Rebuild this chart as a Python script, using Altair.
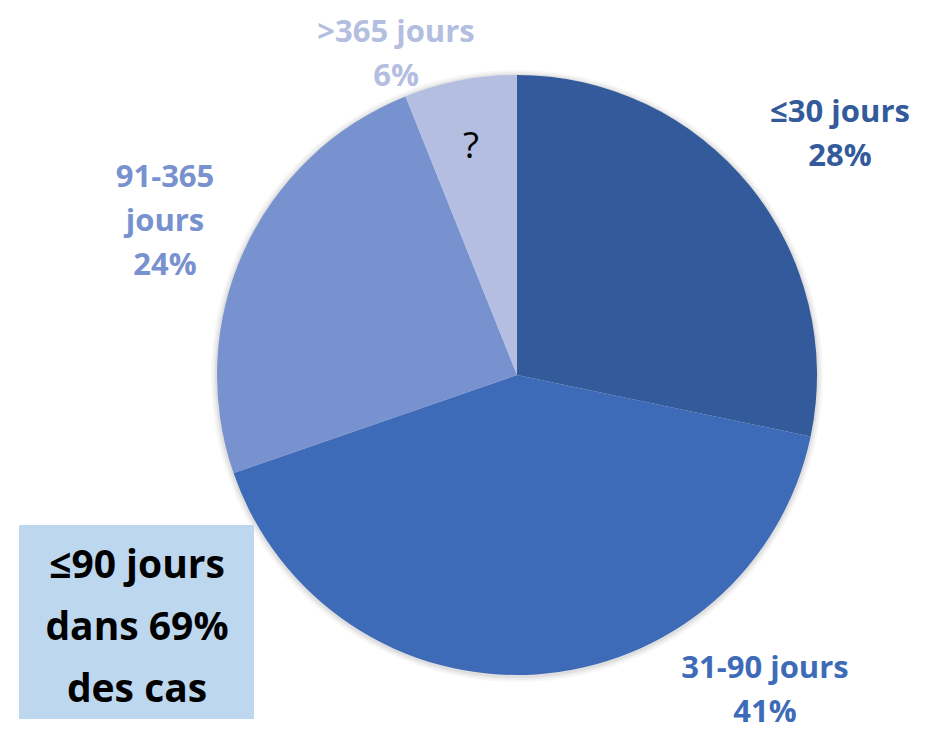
import altair as alt
import pandas as pd

# ---- data ----
categories = ["≤30 jours", "31-90 jours", "91-365 jours", ">365 jours"]
label_lines = [["≤30 jours", "28%"], ["31-90 jours", "41%"], ["91-365", "jours", "24%"], [">365 jours", "6%"]]
percent = [28, 41, 24, 6]
colors = ["#335A9B", "#3E6BB8", "#7891CF", "#B3BEE0"]
box_lines = ["≤90 jours", "dans 69%", "des cas"]
unknown_mark = "?"

# ---- layout (chart coords) ----
W, H = 920, 720
CX, CY, R = 509, 367, 300
label_pos = [(832, 114), (757, 670), (157, 179), (388, 34)]
FONT = "Open Sans"

df = pd.DataFrame({"cat": categories, "pct": percent, "order": list(range(len(categories)))})

theta = alt.Theta("pct:Q", stack=True)
order = alt.Order("order:Q")

shadows = []
for dr, op in [(6, 0.03), (4, 0.04), (2, 0.06)]:
    shadows.append(
        alt.Chart(df).mark_arc(outerRadius=R + dr, color="#000000", opacity=op)
        .encode(theta=theta, order=order, x=alt.value(CX), y=alt.value(CY + 1))
    )

pie = alt.Chart(df).mark_arc(outerRadius=R, stroke=None).encode(
    theta=theta,
    order=order,
    color=alt.Color("cat:N", scale=alt.Scale(domain=categories, range=colors), legend=None),
    x=alt.value(CX),
    y=alt.value(CY),
)

one = pd.DataFrame({"k": [0]})
labels = []
for lines, col, (lx, ly) in zip(label_lines, colors, label_pos):
    labels.append(
        alt.Chart(one).mark_text(
            text=lines, font=FONT, fontWeight="bold", fontSize=31, color=col,
            align="center", baseline="alphabetic", lineHeight=44,
        ).encode(x=alt.value(lx), y=alt.value(ly))
    )

q = alt.Chart(one).mark_text(
    text=unknown_mark, font=FONT, fontSize=37, color="#000000", align="center", baseline="alphabetic"
).encode(x=alt.value(463), y=alt.value(150))

box = alt.Chart(one).mark_rect(color="#BDD7EE").encode(
    x=alt.value(11), x2=alt.value(246), y=alt.value(517), y2=alt.value(711)
)
box_text = alt.Chart(one).mark_text(
    text=box_lines, font=FONT, fontWeight="bold", fontSize=39, color="#000000",
    align="center", baseline="alphabetic", lineHeight=62,
).encode(x=alt.value(129), y=alt.value(570))

chart = alt.layer(*shadows, pie, *labels, q, box, box_text).properties(
    width=W, height=H, padding=0, autosize=alt.AutoSizeParams(type="none")
).configure_view(stroke=None)

chart.save("out.html", embed_options={"renderer": "svg", "actions": False})
